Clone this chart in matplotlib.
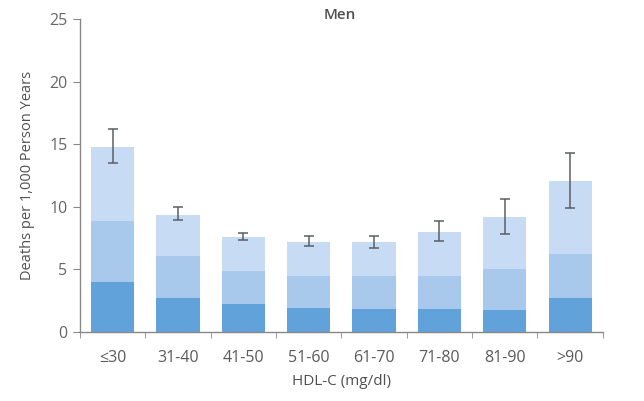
import numpy as np
import matplotlib.pyplot as plt

# HDL-C groups and stacked segment heights (deaths per 1,000 person years)
groups = ["≤30", "31-40", "41-50", "51-60", "61-70", "71-80", "81-90", ">90"]
bottom_seg = [4.0, 2.75, 2.2, 1.9, 1.86, 1.86, 1.76, 2.72]
middle_top = [8.9, 6.1, 4.9, 4.5, 4.45, 4.45, 5.06, 6.23]
total = [14.8, 9.37, 7.59, 7.2, 7.16, 8.01, 9.21, 12.06]
err_low = [13.5, 8.92, 7.32, 6.84, 6.73, 7.24, 7.8, 9.93]
err_high = [16.2, 9.96, 7.9, 7.7, 7.7, 8.87, 10.65, 14.3]

plt.rcParams["font.family"] = ["Open Sans", "DejaVu Sans"]

fig = plt.figure(figsize=(6.44, 4.01), dpi=100)
ax = fig.add_axes([0.1242, 0.172, 0.8118, 0.7806])

x = np.arange(len(groups))
w = 0.66
c_dark = "#62a2db"
c_mid = "#a9c9ec"
c_light = "#c7dbf4"

bottom_seg = np.array(bottom_seg)
middle_top = np.array(middle_top)
total = np.array(total)

ax.bar(x, bottom_seg, width=w, color=c_dark)
ax.bar(x, middle_top - bottom_seg, width=w, bottom=bottom_seg, color=c_mid)
ax.bar(x, total - middle_top, width=w, bottom=middle_top, color=c_light)

# error bars drawn from low/high bounds
mid = (np.array(err_low) + np.array(err_high)) / 2
half = (np.array(err_high) - np.array(err_low)) / 2
ax.errorbar(x, mid, yerr=half, fmt="none", ecolor="#5a5f66",
            elinewidth=1.1, capsize=3.5, capthick=1.1)

ax.set_xlim(-0.5, 7.5)
ax.set_ylim(0, 25)
ax.set_yticks([0, 5, 10, 15, 20, 25])
ax.set_xticks(x)
ax.set_xticklabels(groups)
ax.set_xticks(np.arange(-0.5, 8.0, 1.0), minor=True)
ax.tick_params(axis="x", which="major", length=0, pad=13,
               labelsize=11.5, labelcolor="#5a5a5a")
ax.tick_params(axis="x", which="minor", length=4, color="#888888",
               direction="out")
ax.tick_params(axis="y", length=5, color="#888888", labelsize=11.5,
               labelcolor="#666666", pad=4)

for s in ["top", "right"]:
    ax.spines[s].set_visible(False)
for s in ["left", "bottom"]:
    ax.spines[s].set_color("#888888")
    ax.spines[s].set_linewidth(1.0)

ax.set_ylabel("Deaths per 1,000 Person Years", fontsize=10.5,
              color="#505050", fontweight="medium", labelpad=10)
ax.set_xlabel("HDL-C (mg/dl)", fontsize=11, color="#505050",
              fontweight="medium", labelpad=6)
fig.text(0.528, (401 - 15) / 401, "Men", fontsize=11, color="#505050",
         fontweight="semibold", ha="center", va="center")

fig.savefig("out.png", dpi=100)
